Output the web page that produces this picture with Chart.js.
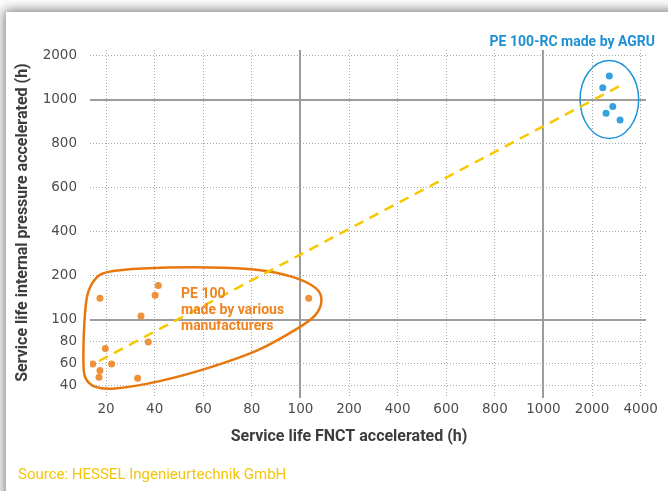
<!DOCTYPE html>
<html><head><meta charset="utf-8">
<script src="https://cdn.jsdelivr.net/npm/chart.js@4.4.1/dist/chart.umd.min.js"></script>
<style>
html,body{margin:0;padding:0;background:#fff;overflow:hidden;width:668px;height:491px;}
#card{position:absolute;left:6px;top:12px;width:720px;height:540px;background:#fff;box-shadow:0 0 11px 2px rgba(0,0,0,0.5);}
#c{position:absolute;left:0;top:0;}
</style></head><body>
<div id="card"></div>
<canvas id="c" width="668" height="491"></canvas>
<script>
// ---- data ----
const xTicks = [20, 40, 60, 80, 100, 200, 400, 600, 800, 1000, 2000, 4000];
const yTicks = [40, 60, 80, 100, 200, 400, 600, 800, 1000, 2000];
// PE 100 made by various manufacturers
const peX = [17.5, 41.5, 40.2, 34.4, 117, 19.7, 37.4, 14.5, 22.3, 17.5, 17.1, 33];
const peY = [149, 178, 156, 109, 149, 74, 80, 60, 60, 54, 48, 47];
// PE 100-RC made by AGRU
const rcX = [2712, 2440, 2852, 2576, 3152];
const rcY = [1534, 1269, 968, 938, 907];
// trend line
const trendX = [17.1, 3288];
const trendY = [62.7, 1353];

// ---- piecewise stepped scale ----
class StepScale extends Chart.LinearScale {
  static id = 'step';
  static defaults = {};
  determineDataLimits() { this.min = this.options.min; this.max = this.options.max; }
  buildTicks() { return this.options.stops.map(v => ({ value: v })); }
  _pos() {
    const w = this.options.gaps, p = [0];
    for (let i = 0; i < w.length; i++) p.push(p[i] + w[i]);
    return p;
  }
  _idx(v) {
    const s = this.options.stops, p = this._pos();
    let i = 0;
    if (v <= s[0]) i = 0;
    else if (v >= s[s.length - 1]) i = s.length - 2;
    else { while (v > s[i + 1]) i++; }
    return p[i] + (v - s[i]) / (s[i + 1] - s[i]) * (p[i + 1] - p[i]);
  }
  _val(u) {
    const s = this.options.stops, p = this._pos();
    let i = 0;
    if (u <= p[0]) i = 0;
    else if (u >= p[p.length - 1]) i = p.length - 2;
    else { while (u > p[i + 1]) i++; }
    return s[i] + (u - p[i]) / (p[i + 1] - p[i]) * (s[i + 1] - s[i]);
  }
  getPixelForValue(v) {
    if (v === null || v === undefined || isNaN(v)) return NaN;
    const a = this._idx(this.min), b = this._idx(this.max);
    return this.getPixelForDecimal((this._idx(v) - a) / (b - a));
  }
  getValueForPixel(px) {
    const a = this._idx(this.min), b = this._idx(this.max);
    return this._val(a + this.getDecimalForPixel(px) * (b - a));
  }
}
Chart.register(StepScale);

const xGaps = [1, 1, 1, 1, 1, 1, 1, 1, 1, 1, 1];
const yGaps = [0.5, 0.5, 0.5, 1, 1, 1, 1, 1, 1];
const majors = [100, 1000];
const dotted = '#a9a9a9';
const solid = '#9c9c9c';

function toPts(xs, ys) { return xs.map((x, i) => ({ x: x, y: ys[i] })); }

function smoothClosed(ctx, pts) {
  const n = pts.length;
  ctx.beginPath();
  ctx.moveTo(pts[0][0], pts[0][1]);
  for (let i = 0; i < n; i++) {
    const p0 = pts[(i - 1 + n) % n], p1 = pts[i], p2 = pts[(i + 1) % n], p3 = pts[(i + 2) % n];
    ctx.bezierCurveTo(p1[0] + (p2[0] - p0[0]) / 6, p1[1] + (p2[1] - p0[1]) / 6,
                      p2[0] - (p3[0] - p1[0]) / 6, p2[1] - (p3[1] - p1[1]) / 6, p2[0], p2[1]);
  }
  ctx.closePath();
}

// outline of the PE 100 group, offsets from the (100,100) data anchor
const blob = [[-192,-48],[-158,-51.5],[-92,-52.5],[-42,-50],[-8,-43],[15,-32],[21,-20],[15,-5],[-2,8],
  [-42,30],[-92,48],[-142,61.5],[-185,68.5],[-205,67],[-215,58],[-217,42],[-216,2],[-213,-25],[-205,-41]];

const decor = {
  id: 'decor',
  beforeDatasetsDraw(chart) {
    const { ctx, scales } = chart;
    const x = scales.x, y = scales.y;
    ctx.save();
    // blue ellipse
    ctx.strokeStyle = '#1e93d4';
    ctx.lineWidth = 1.5;
    ctx.beginPath();
    ctx.ellipse(x.getPixelForValue(2712), y.getPixelForValue(1000), 29.3, 39, 0, 0, Math.PI * 2);
    ctx.stroke();
    // orange outline
    const ax = x.getPixelForValue(100), ay = y.getPixelForValue(100);
    smoothClosed(ctx, blob.map(p => [ax + p[0], ay + p[1]]));
    ctx.strokeStyle = '#e8780e';
    ctx.lineWidth = 2.5;
    ctx.stroke();
    ctx.restore();
  },
  afterDraw(chart) {
    const { ctx } = chart;
    ctx.save();
    ctx.textBaseline = 'alphabetic';
    ctx.fillStyle = '#ef8420';
    ctx.font = 'bold 14px Roboto';
    ctx.textAlign = 'left';
    ctx.fillText('PE 100', 181, 298);
    ctx.fillText('made by various', 181, 314);
    ctx.fillText('manufacturers', 181, 330);
    ctx.fillStyle = '#1e90d2';
    ctx.textAlign = 'right';
    ctx.fillText('PE 100-RC made by AGRU', 655, 46);
    // axis titles
    ctx.fillStyle = '#3d3d3d';
    ctx.font = 'bold 16px Roboto';
    ctx.textAlign = 'center';
    ctx.textBaseline = 'middle';
    ctx.fillText('Service life FNCT accelerated (h)', 349, 437);
    ctx.save();
    ctx.translate(23, 222.5);
    ctx.rotate(-Math.PI / 2);
    ctx.fillText('Service life internal pressure accelerated (h)', 0, 0);
    ctx.restore();
    // source
    ctx.fillStyle = '#f5c40a';
    ctx.font = '15px Roboto';
    ctx.textAlign = 'left';
    ctx.textBaseline = 'alphabetic';
    ctx.fillText('Source: HESSEL Ingenieurtechnik GmbH', 18, 479);
    ctx.restore();
  }
};

const tickFont = { family: 'DejaVu Sans', size: 13.5 };
const dotColor = c => (c.tick && majors.includes(c.tick.value)) ? 'rgba(0,0,0,0)' : dotted;

new Chart(document.getElementById('c'), {
  type: 'scatter',
  data: {
    datasets: [
      { label: 'trend', type: 'line', data: toPts(trendX, trendY), borderColor: '#f7c800', borderWidth: 2.5,
        borderDash: [10, 7], pointRadius: 0, fill: false, order: 3 },
      { label: 'PE 100', data: toPts(peX, peY), backgroundColor: '#f0903a', borderWidth: 0, pointRadius: 3.5, order: 1 },
      { label: 'PE 100-RC', data: toPts(rcX, rcY), backgroundColor: '#34a2df', borderWidth: 0, pointRadius: 3.5, order: 2 }
    ]
  },
  options: {
    responsive: false,
    animation: false,
    events: [],
    layout: { padding: { top: 50, right: 22, left: 0, bottom: 0 } },
    plugins: { legend: { display: false }, tooltip: { enabled: false }, title: { display: false } },
    scales: {
      x: {
        type: 'step', position: 'bottom', stops: xTicks, gaps: xGaps, min: 13.4, max: 4220,
        grid: { color: dotColor, lineWidth: 1, drawTicks: false },
        border: { display: false, dash: [1, 2] },
        ticks: { autoSkip: false, maxRotation: 0, padding: 3, font: tickFont, color: '#4d4d4d', callback: v => String(v) },
        afterFit: s => { s.height = 93; }
      },
      x2: {
        type: 'step', position: 'bottom', stops: xTicks, gaps: xGaps, min: 13.4, max: 4220,
        afterBuildTicks: s => { s.ticks = s.ticks.filter(t => majors.includes(t.value)); },
        grid: { color: solid, lineWidth: 2, drawTicks: false },
        border: { display: false },
        ticks: { display: false },
        afterFit: s => { s.height = 0; }
      },
      y: {
        type: 'step', position: 'left', stops: yTicks, gaps: yGaps, min: 29.1, max: 2125,
        grid: { color: dotColor, lineWidth: 1, drawTicks: false },
        border: { display: false, dash: [1, 2] },
        ticks: { autoSkip: false, padding: 13, font: tickFont, color: '#4d4d4d', callback: v => String(v) },
        afterFit: s => { s.width = 90; }
      },
      y2: {
        type: 'step', position: 'left', stops: yTicks, gaps: yGaps, min: 29.1, max: 2125,
        afterBuildTicks: s => { s.ticks = s.ticks.filter(t => majors.includes(t.value)); },
        grid: { color: solid, lineWidth: 2, drawTicks: false },
        border: { display: false },
        ticks: { display: false },
        afterFit: s => { s.width = 0; }
      }
    }
  },
  plugins: [decor]
});
</script>
</body></html>
